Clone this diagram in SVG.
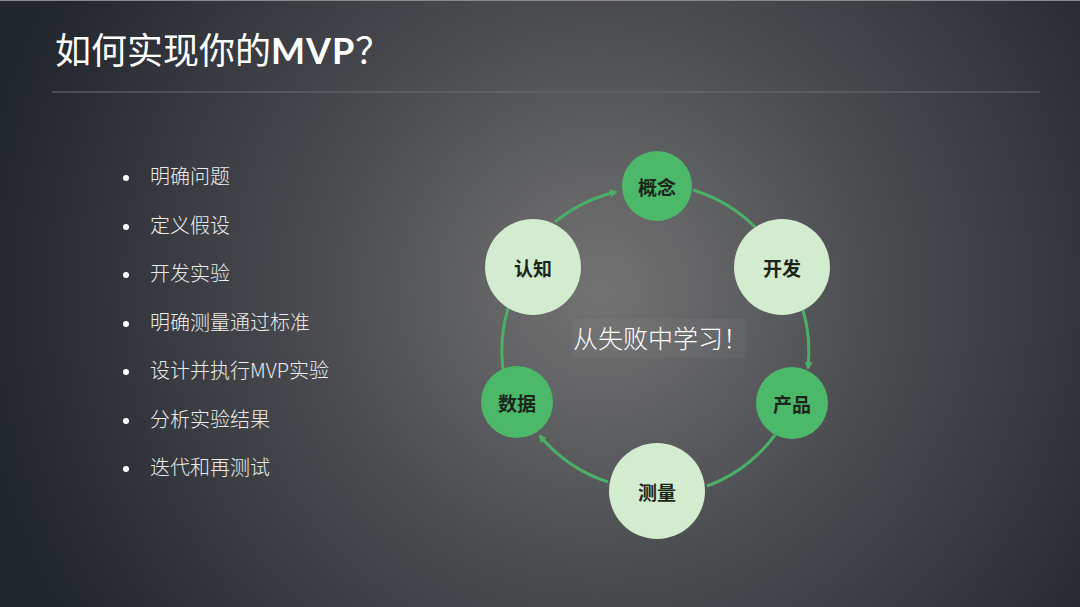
<svg xmlns="http://www.w3.org/2000/svg" width="1080" height="607" viewBox="0 0 1080 607">
<defs>
<radialGradient id="bg" cx="600" cy="290" r="620" gradientUnits="userSpaceOnUse">
<stop offset="0" stop-color="#737373"/>
<stop offset="0.45" stop-color="#4a4c50"/>
<stop offset="1" stop-color="#22262d"/>
</radialGradient>
<marker id="ah" markerWidth="8" markerHeight="8" refX="6" refY="4" orient="auto" markerUnits="userSpaceOnUse">
<path d="M0,0 L8,4 L0,8 Z" fill="#4caf68"/>
</marker>
<style>
.title{font-family:"Noto Sans CJK SC","Noto Sans",sans-serif;font-size:36px;fill:#ffffff}
.bul{font-family:"Noto Sans CJK SC","Noto Sans",sans-serif;font-size:20px;fill:#ececec;font-weight:300}
.dot{fill:#ffffff}
.dk{fill:#4cb86a}
.lt{fill:#d3ebce}
.nt{font-family:"Noto Sans CJK SC",sans-serif;font-size:19px;font-weight:700;fill:#1b261b;text-anchor:middle;dominant-baseline:central}
.arc{fill:none;stroke:#4caf68;stroke-width:3}
</style>
</defs>
<rect width="1080" height="607" fill="url(#bg)"/>
<line x1="0" y1="0.5" x2="1080" y2="0.5" stroke="#8a8a8a" stroke-width="1"/>
<text class="title" x="55" y="64">如何实现你的<tspan font-family="Lato,'Open Sans',sans-serif" font-weight="700" letter-spacing="1">MVP</tspan>？</text>
<line x1="52" y1="92" x2="1040" y2="92" stroke="#6a6d70" stroke-width="1"/>
<g id="bullets">
<circle class="dot" cx="126" cy="178" r="3"/><text class="bul" x="150" y="184">明确问题</text>
<circle class="dot" cx="126" cy="227" r="3"/><text class="bul" x="150" y="233">定义假设</text>
<circle class="dot" cx="126" cy="275" r="3"/><text class="bul" x="150" y="281">开发实验</text>
<circle class="dot" cx="126" cy="324" r="3"/><text class="bul" x="150" y="330">明确测量通过标准</text>
<circle class="dot" cx="126" cy="372" r="3"/><text class="bul" x="150" y="378">设计并执行MVP实验</text>
<circle class="dot" cx="126" cy="421" r="3"/><text class="bul" x="150" y="427">分析实验结果</text>
<circle class="dot" cx="126" cy="469" r="3"/><text class="bul" x="150" y="475">迭代和再测试</text>
</g>
<g id="connectors">
<path class="arc" d="M555,222 A150,150 0 0 1 616,192" marker-end="url(#ah)"/>
<path class="arc" d="M693,190 A150,150 0 0 1 755,227"/>
<path class="arc" d="M803,310 A150,150 0 0 1 808,368" marker-end="url(#ah)"/>
<path class="arc" d="M775,435 A150,150 0 0 1 707,486"/>
<path class="arc" d="M608,482 A150,150 0 0 1 540,436" marker-end="url(#ah)"/>
<path class="arc" d="M503,370 A150,150 0 0 1 508,308"/>
</g>
<g id="n-gainian"><circle class="dk" cx="657" cy="186" r="35"/><text class="nt" x="657" y="186">概念</text></g>
<g id="n-kaifa"><circle class="lt" cx="782" cy="267" r="48"/><text class="nt" x="782" y="267">开发</text></g>
<g id="n-chanpin"><circle class="dk" cx="792" cy="403" r="36"/><text class="nt" x="792" y="403">产品</text></g>
<g id="n-celiang"><circle class="lt" cx="657" cy="491" r="48"/><text class="nt" x="657" y="491">测量</text></g>
<g id="n-shuju"><circle class="dk" cx="517" cy="402" r="36"/><text class="nt" x="517" y="402">数据</text></g>
<g id="n-renzhi"><circle class="lt" cx="533" cy="267" r="48"/><text class="nt" x="533" y="267">认知</text></g>
<g id="center-label">
<rect x="572" y="319" width="174" height="39" fill="#ffffff" fill-opacity="0.04"/>
<text x="573" y="348" font-family="'Noto Sans CJK SC',sans-serif" font-size="25" font-weight="300" fill="#ffffff">从失败中学习！</text>
</g>
</svg>
